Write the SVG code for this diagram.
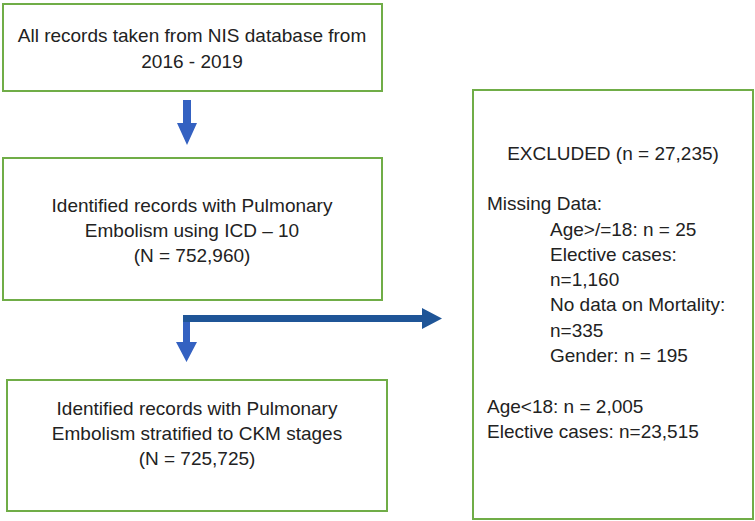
<svg xmlns="http://www.w3.org/2000/svg" width="755" height="521" viewBox="0 0 755 521">
<style>
.box{fill:#fff;stroke:#70AD47;stroke-width:2}
.t{font-family:"Liberation Sans",Arial,sans-serif;font-size:19px;fill:#222}
.c{text-anchor:middle}
.lt{fill:#3461C1}
.dk{fill:#1F5597}
</style>
<rect width="755" height="521" fill="#fff"/>
<g id="connectors">
<polygon class="lt" points="183,100 191,100 191,123 197,123 187,145 177,123 183,123"/>
<polygon class="dk" points="183,315 422,315 422,308 442,318.5 422,329 422,322 190,322 190,330 183,330"/>
<polygon class="lt" points="183,322 190,322 190,342 197,342 186.5,362 176,342 183,342"/>
</g>
<g id="n1">
<rect class="box" x="3" y="4" width="379" height="87"/>
<text class="t c" x="192" y="42">All records taken from NIS database from</text>
<text class="t c" x="192" y="68">2016 - 2019</text>
</g>
<g id="n2">
<rect class="box" x="3" y="158" width="379" height="142"/>
<text class="t c" x="192" y="212">Identified records with Pulmonary</text>
<text class="t c" x="192" y="237">Embolism using ICD – 10</text>
<text class="t c" x="192" y="262">(N = 752,960)</text>
</g>
<g id="n3">
<rect class="box" x="7" y="380" width="380" height="131"/>
<text class="t c" x="197" y="415">Identified records with Pulmonary</text>
<text class="t c" x="197" y="440">Embolism stratified to CKM stages</text>
<text class="t c" x="197" y="465">(N = 725,725)</text>
</g>
<g id="n4">
<rect class="box" x="473" y="90" width="280" height="429"/>
<text class="t c" x="613" y="160">EXCLUDED (n = 27,235)</text>
<text class="t" x="487" y="210">Missing Data:</text>
<text class="t" x="550" y="236">Age&gt;/=18: n = 25</text>
<text class="t" x="550" y="261">Elective cases:</text>
<text class="t" x="550" y="286">n=1,160</text>
<text class="t" x="550" y="311">No data on Mortality:</text>
<text class="t" x="550" y="337">n=335</text>
<text class="t" x="550" y="362">Gender: n = 195</text>
<text class="t" x="487" y="413">Age&lt;18: n = 2,005</text>
<text class="t" x="487" y="438">Elective cases: n=23,515</text>
</g>
</svg>
